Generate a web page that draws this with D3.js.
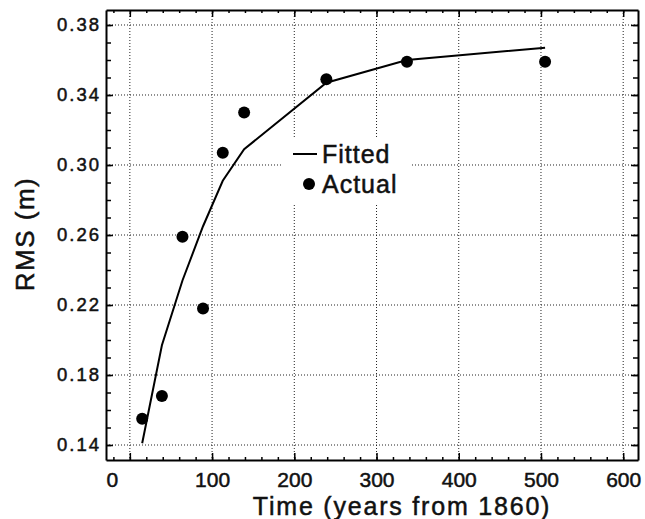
<!DOCTYPE html>
<html>
<head>
<meta charset="UTF-8" />
<title>RMS vs time</title>
<script src="https://d3js.org/d3.v7.min.js"></script>
<style type="text/css">
body {
    margin: 0;
    background-color: #fff;
    font-family: "Liberation Sans", Arial, Helvetica, sans-serif;
}
.grid line {
    stroke: #222;
    stroke-width: 1;
    stroke-dasharray: 1,2;
}
.axis path, .axis line {
    stroke: #000;
}
.axis path {
    stroke-width: 2;
}
.axis line {
    stroke-width: 1.5;
}
.axis text {
    fill: #111;
    stroke: #111;
    stroke-width: 0.5;
}
.title {
    fill: #111;
    stroke: #111;
    stroke-width: 0.5;
}
</style>
</head>
<body>
<svg width="645" height="519" id="chart"></svg>

<script type="text/javascript">
// time since 1860 (years) for each observation
var times = [15, 39, 64, 89, 113, 139, 239, 337, 505];
// observed RMS (m)
var actual = [0.155, 0.168, 0.259, 0.218, 0.307, 0.330, 0.349, 0.359, 0.359];
// fitted RMS (m)
var fitted = [0.141, 0.197, 0.234, 0.265, 0.291, 0.309, 0.347, 0.360, 0.367];

var xTicks = [0, 100, 200, 300, 400, 500, 600];
var yTicks = [0.14, 0.18, 0.22, 0.26, 0.30, 0.34, 0.38];
var xMinor = d3.range(-20, 620, 20);
var yMinor = d3.range(0.14, 0.3851, 0.01);

var svg = d3.select("#chart");
var pLeft = 106, pRight = 638, pTop = 10, pBottom = 460;

var x = d3.scaleLinear().domain([-29, 618]).range([pLeft, pRight]);
var y = d3.scaleLinear().domain([0.13143, 0.38857]).range([pBottom, pTop]);

// grid
var grid = svg.append("g").attr("class", "grid");
grid.selectAll("line.h").data(yTicks).enter().append("line")
    .attr("class", "h")
    .attr("x1", pLeft).attr("x2", pRight)
    .attr("y1", function(d) { return y(d); })
    .attr("y2", function(d) { return y(d); });
grid.selectAll("line.v").data(xTicks).enter().append("line")
    .attr("class", "v")
    .attr("x1", function(d) { return x(d); })
    .attr("x2", function(d) { return x(d); })
    .attr("y1", pTop).attr("y2", pBottom);

// legend box hides grid behind it
svg.append("rect")
    .attr("x", 283).attr("y", 137)
    .attr("width", 127).attr("height", 68)
    .attr("fill", "#fff");

// axes
var fmtY = d3.format(".2f");

svg.append("g").attr("class", "axis")
    .attr("transform", "translate(0," + pBottom + ")")
    .call(d3.axisBottom(x).tickValues(xTicks).tickSize(-7).tickPadding(12).tickSizeOuter(0))
    .call(function(g) {
        g.selectAll("text").attr("font-size", 21).attr("font-family", "Liberation Sans, Arial, sans-serif");
        g.selectAll(".tick").filter(function(d) { return d == 0; }).select("text").attr("dx", -18);
    });
svg.append("g").attr("class", "axis")
    .attr("transform", "translate(0," + pBottom + ")")
    .call(d3.axisBottom(x).tickValues(xMinor).tickSize(-3).tickFormat("").tickSizeOuter(0))
    .call(function(g) { g.select("path").remove(); });

svg.append("g").attr("class", "axis")
    .attr("transform", "translate(0," + pTop + ")")
    .call(d3.axisTop(x).tickValues(xTicks).tickSize(-7).tickFormat("").tickSizeOuter(0));
svg.append("g").attr("class", "axis")
    .attr("transform", "translate(0," + pTop + ")")
    .call(d3.axisTop(x).tickValues(xMinor).tickSize(-3).tickFormat("").tickSizeOuter(0))
    .call(function(g) { g.select("path").remove(); });

svg.append("g").attr("class", "axis")
    .attr("transform", "translate(" + pLeft + ",0)")
    .call(d3.axisLeft(y).tickValues(yTicks).tickSize(-7).tickPadding(5).tickFormat(fmtY).tickSizeOuter(0))
    .call(function(g) {
        g.selectAll("text").attr("font-size", 18.5).attr("letter-spacing", 2)
            .attr("font-family", "Liberation Sans, Arial, sans-serif");
    });
svg.append("g").attr("class", "axis")
    .attr("transform", "translate(" + pLeft + ",0)")
    .call(d3.axisLeft(y).tickValues(yMinor).tickSize(-5).tickFormat("").tickSizeOuter(0))
    .call(function(g) { g.select("path").remove(); });

svg.append("g").attr("class", "axis")
    .attr("transform", "translate(" + pRight + ",0)")
    .call(d3.axisRight(y).tickValues(yTicks).tickSize(-7).tickFormat("").tickSizeOuter(0));
svg.append("g").attr("class", "axis")
    .attr("transform", "translate(" + pRight + ",0)")
    .call(d3.axisRight(y).tickValues(yMinor).tickSize(-5).tickFormat("").tickSizeOuter(0))
    .call(function(g) { g.select("path").remove(); });

// fitted line
var line = d3.line()
    .x(function(d, i) { return x(times[i]); })
    .y(function(d) { return y(d); });

svg.append("path")
    .datum(fitted)
    .attr("d", line)
    .attr("fill", "none")
    .attr("stroke", "#000")
    .attr("stroke-width", 2);

// actual points
svg.append("g").selectAll("circle").data(actual).enter().append("circle")
    .attr("cx", function(d, i) { return x(times[i]); })
    .attr("cy", function(d) { return y(d); })
    .attr("r", 6)
    .attr("fill", "#000");

// legend
svg.append("line")
    .attr("x1", 293).attr("x2", 317)
    .attr("y1", 154).attr("y2", 154)
    .attr("stroke", "#000").attr("stroke-width", 2);
svg.append("text").attr("class", "title")
    .attr("x", 322).attr("y", 163)
    .attr("font-size", 25)
    .attr("letter-spacing", 1)
    .text("Fitted");
svg.append("circle")
    .attr("cx", 309).attr("cy", 184).attr("r", 6).attr("fill", "#000");
svg.append("text").attr("class", "title")
    .attr("x", 322).attr("y", 193)
    .attr("font-size", 25)
    .attr("letter-spacing", 1)
    .text("Actual");

// axis titles
svg.append("text").attr("class", "title")
    .attr("x", 402).attr("y", 515)
    .attr("text-anchor", "middle")
    .attr("font-size", 25)
    .attr("letter-spacing", 1.8)
    .text("Time (years from 1860)");

svg.append("text").attr("class", "title")
    .attr("transform", "translate(34,234) rotate(-90)")
    .attr("text-anchor", "middle")
    .attr("font-size", 26)
    .attr("letter-spacing", 1.5)
    .text("RMS (m)");
</script>
</body>
</html>
